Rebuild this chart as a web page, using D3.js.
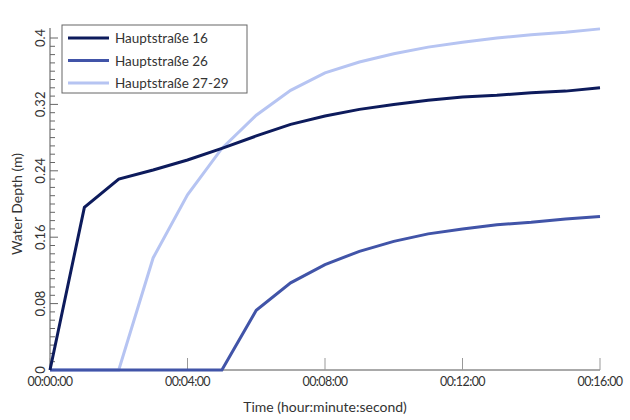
<!DOCTYPE html>
<html><head><meta charset="utf-8">
<script src="https://cdn.jsdelivr.net/npm/d3@7"></script>
<style>body{margin:0;background:#fff}text{font-family:Lato,"DejaVu Sans",sans-serif;fill:#333}</style>
</head><body><svg id="c" width="630" height="420"></svg>
<script>
var minutes = d3.range(0, 17);
var names = ["Hauptstraße 16", "Hauptstraße 26", "Hauptstraße 27-29"];
var colors = ["#0d1b5c", "#4154a8", "#b6c4f2"];
var h16 = [0, 0.196, 0.23, 0.241, 0.253, 0.267, 0.282, 0.296, 0.306, 0.314, 0.320, 0.325, 0.329, 0.331, 0.334, 0.336, 0.340];
var h26 = [0, 0, 0, 0, 0, 0, 0.072, 0.105, 0.127, 0.143, 0.155, 0.164, 0.170, 0.175, 0.178, 0.182, 0.185];
var h2729 = [0, 0, 0, 0.135, 0.211, 0.267, 0.307, 0.337, 0.358, 0.371, 0.381, 0.389, 0.395, 0.400, 0.404, 0.407, 0.411];
var series = [h16, h26, h2729];
var xTicks = [0, 4, 8, 12, 16];
var yTicks = [0, 0.08, 0.16, 0.24, 0.32, 0.4];

var svg = d3.select("#c");
var x = d3.scaleLinear().domain([0, 16]).range([50, 600]);
var y = d3.scaleLinear().domain([0, 0.4]).range([370, 38]);
var fmt = function(m) { return "00:" + d3.format("02d")(m) + ":00"; };

// y axis with minor ticks pointing inward
var ya = svg.append("g").attr("transform", "translate(50,0)");
ya.append("line").attr("y1", 28).attr("y2", 370).attr("stroke", "#555");
ya.selectAll(".mn").data(d3.range(0, 41)).enter().append("line")
    .attr("x1", 0).attr("x2", function(d) { return d % 8 == 0 ? 8 : 5; })
    .attr("y1", function(d) { return y(d / 100); }).attr("y2", function(d) { return y(d / 100); })
    .attr("stroke", "#666");
ya.selectAll("text").data(yTicks).enter().append("text")
    .attr("transform", function(d) { return "translate(-5," + y(d) + ")rotate(-90)"; })
    .attr("text-anchor", "middle").attr("font-size", 13).text(function(d) { return d; });

// x axis
var xa = svg.append("g");
xa.append("line").attr("x1", 50).attr("x2", 600).attr("y1", 370).attr("y2", 370).attr("stroke", "#555");
xa.selectAll("line.t").data(xTicks).enter().append("line").attr("class", "t")
    .attr("x1", x).attr("x2", x).attr("y1", 370).attr("y2", 358).attr("stroke", "#999");
xa.selectAll("text").data(xTicks).enter().append("text")
    .attr("x", x).attr("y", 386).attr("text-anchor", "middle").attr("font-size", 12.5)
    .attr("letter-spacing", -0.6).text(fmt);

svg.append("text").attr("x", 325).attr("y", 412).attr("text-anchor", "middle").attr("font-size", 14).text("Time (hour:minute:second)");
svg.append("text").attr("transform", "translate(22,204)rotate(-90)").attr("text-anchor", "middle").attr("font-size", 14).text("Water Depth (m)");

var line = d3.line().x(function(d, i) { return x(minutes[i]); }).y(function(d) { return y(d); });
[2, 1, 0].forEach(function(k) {
    svg.append("path").datum(series[k]).attr("d", line).attr("fill", "none")
        .attr("stroke", colors[k]).attr("stroke-width", 3);
});

// legend
var lg = svg.append("g");
lg.append("rect").attr("x", 62).attr("y", 25).attr("width", 185).attr("height", 68)
    .attr("fill", "#fff").attr("stroke", "#666");
names.forEach(function(n, i) {
    var yy = 38 + i * 22.5;
    lg.append("line").attr("x1", 68).attr("x2", 109).attr("y1", yy).attr("y2", yy)
        .attr("stroke", colors[i]).attr("stroke-width", 3);
    lg.append("text").attr("x", 115).attr("y", yy + 5).attr("font-size", 13.5).text(n);
});
</script></body></html>
